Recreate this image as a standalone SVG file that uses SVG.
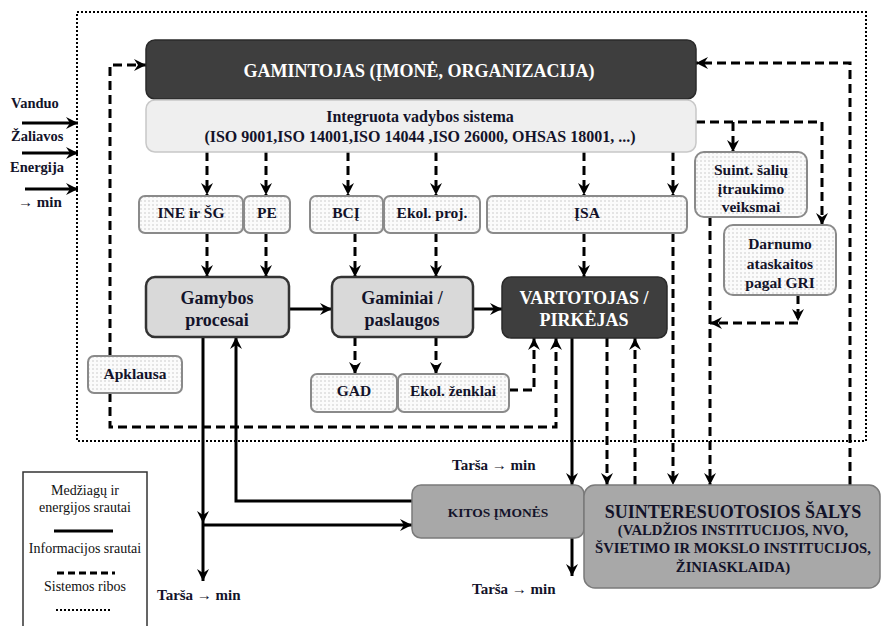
<svg xmlns="http://www.w3.org/2000/svg" width="881" height="626" viewBox="0 0 881 626" font-family="'Liberation Serif', 'Times New Roman', 'DejaVu Serif', serif">
<defs>
<pattern id="dots" width="4" height="4" patternUnits="userSpaceOnUse"><rect width="4" height="4" fill="#fbfbfb"/><circle cx="1" cy="1" r="0.7" fill="#bdbdbd"/></pattern>
<marker id="ar" markerUnits="userSpaceOnUse" markerWidth="12" markerHeight="12" refX="12" refY="6" orient="auto"><path d="M0,0 L12,6 L0,12 L4,6 z" fill="#000"/></marker>
<style>
text{font-family:'Liberation Serif','Times New Roman','DejaVu Serif',serif;font-weight:bold;fill:#13132a;}
.c{text-anchor:middle;}
.w{fill:#fff;}
.sm{fill:url(#dots);stroke:#8a8a8a;stroke-width:2;}
.lg{fill:#d9d9d9;stroke:#333;stroke-width:2.5;}
.dk{fill:#3e3e3e;stroke:#2a2a2a;stroke-width:1.5;}
.gr{fill:#a8a8a8;stroke:#7a7a7a;stroke-width:1.5;}
.d{fill:none;stroke:#000;stroke-width:3;stroke-dasharray:9 5;}
.s{fill:none;stroke:#000;stroke-width:3;}
.t13{font-size:15.5px;}
.t16{font-size:18px;}
.leg{font-weight:normal;font-size:14px;fill:#111;}
</style>
</defs>
<rect width="881" height="626" fill="#fff"/>
<rect x="77" y="12" width="789" height="429" fill="none" stroke="#000" stroke-width="2" stroke-dasharray="2 2"/>

<g id="connectors">
<path class="d" d="M110,356 L110,65 L146,65" marker-end="url(#ar)"/>
<path class="d" d="M110,393 L110,427 L556,427 L556,338" marker-end="url(#ar)"/>
<path class="d" d="M509,390 L534,390 L534,338" marker-end="url(#ar)"/>
<path class="d" d="M850,485 L850,63 L696,63" marker-end="url(#ar)"/>
<path class="d" d="M696,122 L822,122 L822,225" marker-end="url(#ar)"/>
<path class="d" d="M733,122 L733,152" marker-end="url(#ar)"/>
<path class="d" d="M798,295 L798,321" marker-end="url(#ar)"/>
<path class="d" d="M798,323 L710,323" marker-end="url(#ar)"/>
<path class="d" d="M710,217 L710,485" marker-end="url(#ar)"/>
<path class="d" d="M584,152 L584,195" marker-end="url(#ar)"/>
<path class="d" d="M584,233 L584,277" marker-end="url(#ar)"/>
<path class="d" d="M673,152 L673,195" marker-end="url(#ar)"/>
<path class="d" d="M673,233 L673,485" marker-end="url(#ar)"/>
<path class="d" d="M607,338 L607,485" marker-end="url(#ar)"/>
<path class="d" d="M635,485 L635,338" marker-end="url(#ar)"/>
<path class="d" d="M207,152 L207,195" marker-end="url(#ar)"/>
<path class="d" d="M207,233 L207,277" marker-end="url(#ar)"/>
<path class="d" d="M266,152 L266,195" marker-end="url(#ar)"/>
<path class="d" d="M266,233 L266,277" marker-end="url(#ar)"/>
<path class="d" d="M348,152 L348,195" marker-end="url(#ar)"/>
<path class="d" d="M355,233 L355,277" marker-end="url(#ar)"/>
<path class="d" d="M436,152 L436,195" marker-end="url(#ar)"/>
<path class="d" d="M436,233 L436,277" marker-end="url(#ar)"/>
<path class="d" d="M355,337 L355,374" marker-end="url(#ar)"/>
<path class="d" d="M436,337 L436,374" marker-end="url(#ar)"/>

<path class="s" d="M290,309 L332,309" marker-end="url(#ar)"/>
<path class="s" d="M473,309 L502,309" marker-end="url(#ar)"/>
<path class="s" d="M203,337 L203,523" marker-end="url(#ar)"/>
<path class="s" d="M203,523 L203,581" marker-end="url(#ar)"/>
<path class="s" d="M203,525 L412,525" marker-end="url(#ar)"/>
<path class="s" d="M412,501 L236,501 L236,337" marker-end="url(#ar)"/>
<path class="s" d="M572,338 L572,485" marker-end="url(#ar)"/>
<path class="s" d="M572,538 L572,576" marker-end="url(#ar)"/>
<path class="s" d="M22,123 L78,123" marker-end="url(#ar)"/>
<path class="s" d="M22,153 L78,153" marker-end="url(#ar)"/>
<path class="s" d="M25,189 L78,189" marker-end="url(#ar)"/>
</g>

<g id="inputs">
<text x="11" y="108" style="font-size:14.5px">Vanduo</text>
<text x="11" y="141" style="font-size:14.5px">Žaliavos</text>
<text x="10" y="172" style="font-size:14.5px">Energija</text>
<text x="18" y="207" style="font-size:15px">→ min</text>
</g>

<g id="gamintojas">
<rect class="dk" x="146" y="40" width="550" height="59" rx="9"/>
<text class="c w t16" x="419" y="77">GAMINTOJAS (ĮMONĖ, ORGANIZACIJA)</text>
</g>
<g id="ivs">
<rect x="146" y="100" width="550" height="52" rx="9" fill="#efefef" stroke="#c8c8c8" stroke-width="1.5"/>
<text class="c" x="420" y="122" style="font-size:16px">Integruota vadybos  sistema</text>
<text class="c" x="420" y="142" style="font-size:16px">(ISO 9001,ISO 14001,ISO 14044 ,ISO 26000, OHSAS 18001, ...)</text>
</g>

<g id="ine"><rect class="sm" x="139" y="196" width="104" height="37" rx="6"/><text class="c t13" x="191" y="218">INE  ir ŠG</text></g>
<g id="pe"><rect class="sm" x="244" y="196" width="46" height="37" rx="6"/><text class="c t13" x="267" y="218">PE</text></g>
<g id="bci"><rect class="sm" x="310" y="196" width="73" height="37" rx="6"/><text class="c t13" x="346" y="218">BCĮ</text></g>
<g id="ekolproj"><rect class="sm" x="384" y="196" width="96" height="37" rx="6"/><text class="c t13" x="432" y="218">Ekol. proj.</text></g>
<g id="isa"><rect class="sm" x="487" y="196" width="200" height="37" rx="6"/><text class="c t13" x="587" y="218">ĮSA</text></g>
<g id="suint"><rect class="sm" x="695" y="152" width="112" height="65" rx="9"/>
<text class="c t13" x="751" y="175">Suint. šalių</text><text class="c t13" x="751" y="194">įtraukimo</text><text class="c t13" x="751" y="212">veiksmai</text></g>
<g id="darnumo"><rect class="sm" x="724" y="225" width="112" height="70" rx="9"/>
<text class="c t13" x="780" y="249">Darnumo</text><text class="c t13" x="780" y="269">ataskaitos</text><text class="c t13" x="780" y="288">pagal GRI</text></g>

<g id="gamybos"><rect class="lg" x="146" y="277" width="143" height="60" rx="9"/>
<text class="c t16" x="217" y="304">Gamybos</text><text class="c t16" x="217" y="326">procesai</text></g>
<g id="gaminiai"><rect class="lg" x="332" y="277" width="141" height="60" rx="9"/>
<text class="c t16" x="402" y="304">Gaminiai  /</text><text class="c t16" x="402" y="326">paslaugos</text></g>
<g id="vartotojas"><rect class="dk" x="502" y="277" width="165" height="61" rx="9"/>
<text class="c w t16" x="584" y="304">VARTOTOJAS /</text><text class="c w t16" x="584" y="326">PIRKĖJAS</text></g>

<g id="gad"><rect class="sm" x="311" y="374" width="86" height="38" rx="6"/><text class="c t13" x="354" y="396">GAD</text></g>
<g id="ekolzenk"><rect class="sm" x="398" y="374" width="111" height="38" rx="6"/><text class="c t13" x="453" y="396">Ekol. ženklai</text></g>
<g id="apklausa"><rect class="sm" x="88" y="356" width="94" height="37" rx="6"/><text class="c t13" x="135" y="379">Apklausa</text></g>

<g id="kitos"><rect class="gr" x="412" y="485" width="172" height="53" rx="9"/>
<text class="c" x="498" y="517" style="font-size:13.5px">KITOS ĮMONĖS</text></g>
<g id="salys"><rect class="gr" x="584" y="485" width="296" height="103" rx="11"/>
<text class="c t16" x="733" y="518">SUINTERESUOTOSIOS ŠALYS</text>
<text class="c" x="733" y="535" style="font-size:14.7px">(VALDŽIOS INSTITUCIJOS, NVO,</text>
<text class="c" x="733" y="553" style="font-size:14.7px">ŠVIETIMO IR MOKSLO INSTITUCIJOS,</text>
<text class="c" x="733" y="572" style="font-size:14.7px">ŽINIASKLAIDA)</text></g>

<g id="tarsa">
<text x="452" y="470" style="font-size:15px">Tarša → min</text>
<text x="472" y="594" style="font-size:15px">Tarša → min</text>
<text x="157" y="600" style="font-size:15px">Tarša → min</text>
</g>

<g id="legend">
<rect x="23" y="472" width="124" height="160" fill="none" stroke="#333" stroke-width="1.5"/>
<text class="c leg" x="85" y="495">Medžiagų ir</text>
<text class="c leg" x="85" y="512">energijos srautai</text>
<line x1="54" y1="531" x2="113" y2="531" stroke="#000" stroke-width="3"/>
<text class="c leg" x="85" y="553">Informacijos srautai</text>
<line x1="57" y1="573" x2="115" y2="573" stroke="#000" stroke-width="3" stroke-dasharray="7 4"/>
<text class="c leg" x="85" y="591">Sistemos ribos</text>
<line x1="56" y1="610" x2="112" y2="610" stroke="#000" stroke-width="2" stroke-dasharray="2 2"/>
</g>
</svg>
